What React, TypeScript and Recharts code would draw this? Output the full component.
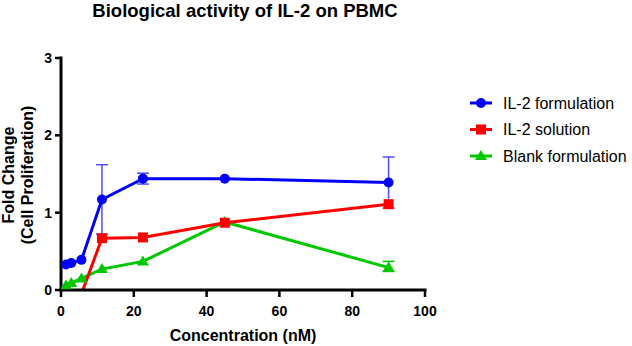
import React from 'react';
import { LineChart, Line, XAxis, YAxis, ErrorBar, Legend } from 'recharts';

const concentrations = [1.40625, 2.8125, 5.625, 11.25, 22.5, 45, 90];
const il2Formulation = [0.33, 0.35, 0.39, 1.17, 1.44, 1.44, 1.39];
const il2FormulationErr = [0, 0, 0, 0.45, 0.07, 0, 0.33];
const il2Solution = [null, null, -0.05, 0.67, 0.68, 0.87, 1.11];
const il2SolutionErr = [0, 0, 0, 0, 0, 0, 0];
const blankFormulation = [0.06, 0.09, 0.15, 0.27, 0.37, 0.88, 0.29];
const blankFormulationErrLow = [0, 0, 0, 0, 0, 0, 0.05];
const blankFormulationErrHigh = [0, 0, 0, 0, 0, 0, 0.08];

const xTicks = [0, 20, 40, 60, 80, 100];
const yTicks = [0, 1, 2, 3];

const seriesNames = ['IL-2 formulation', 'IL-2 solution', 'Blank formulation'];
const BLUE = '#0000FF';
const RED = '#FF0000';
const GREEN = '#00C800';

const data = concentrations.map((c, i) => ({
  x: c,
  f: il2Formulation[i],
  fe: il2FormulationErr[i],
  s: il2Solution[i],
  se: il2SolutionErr[i],
  b: blankFormulation[i],
  be: blankFormulationErrHigh[i] ? [blankFormulationErrLow[i], blankFormulationErrHigh[i]] : 0,
}));

const circleDot = (props: any) => {
  const { cx, cy, index, value } = props;
  if (value == null || value < 0 || cx == null || cy == null) return <g key={`c${index}`} />;
  return <circle key={`c${index}`} cx={cx} cy={cy} r={5} fill={BLUE} stroke="none" />;
};
const squareDot = (props: any) => {
  const { cx, cy, index, value } = props;
  if (value == null || value < 0 || cx == null || cy == null) return <g key={`s${index}`} />;
  return <rect key={`s${index}`} x={cx - 5} y={cy - 5} width={10} height={10} fill={RED} stroke="none" />;
};
const triDot = (props: any) => {
  const { cx, cy, index, value } = props;
  if (value == null || value < 0 || cx == null || cy == null) return <g key={`t${index}`} />;
  return (
    <polygon
      key={`t${index}`}
      points={`${cx},${cy - 6} ${cx + 6},${cy + 4} ${cx - 6},${cy + 4}`}
      fill={GREEN}
      stroke="none"
    />
  );
};

const renderLegend = () => {
  const rows = [
    { name: seriesNames[0], color: BLUE, shape: 'circle' },
    { name: seriesNames[1], color: RED, shape: 'square' },
    { name: seriesNames[2], color: GREEN, shape: 'tri' },
  ];
  return (
    <svg width={164} height={80} style={{ display: 'block', overflow: 'visible' }}>
      {rows.map((r, i) => {
        const y = 13 + i * 26.5;
        return (
          <g key={r.name}>
            <line x1={2} x2={24} y1={y} y2={y} stroke={r.color} strokeWidth={3} />
            {r.shape === 'circle' && <circle cx={13} cy={y} r={5} fill={r.color} />}
            {r.shape === 'square' && <rect x={8} y={y - 5} width={10} height={10} fill={r.color} />}
            {r.shape === 'tri' && (
              <polygon points={`13,${y - 6} 19,${y + 4} 7,${y + 4}`} fill={r.color} />
            )}
            <text
              x={35}
              y={y}
              dy="0.36em"
              fontFamily="Liberation Sans, Arial, sans-serif"
              fontSize={16}
              fill="#000"
            >
              {r.name}
            </text>
          </g>
        );
      })}
    </svg>
  );
};

const axisStyle = { stroke: '#000', strokeWidth: 3, strokeLinecap: 'square' as const };
const tickStyle = { fill: '#000', fontSize: 14, fontWeight: 700, fontFamily: 'Liberation Sans, Arial, sans-serif' };

export default function App() {
  return (
    <div style={{ position: 'absolute', left: 0, top: 0, width: 632, height: 346, background: '#fff' }}>
      <LineChart
        width={632}
        height={346}
        data={data}
        margin={{ top: 58, right: 207, bottom: 0, left: 0 }}
      >
        <XAxis
          dataKey="x"
          type="number"
          domain={[0, 100]}
          ticks={xTicks}
          interval={0}
          height={56}
          axisLine={axisStyle}
          tickLine={{ stroke: '#000', strokeWidth: 2.5 }}
          tickSize={7}
          tickMargin={9}
          tick={tickStyle}
          allowDataOverflow
        />
        <YAxis
          type="number"
          domain={[0, 3]}
          ticks={yTicks}
          interval={0}
          width={61}
          axisLine={axisStyle}
          tickLine={{ stroke: '#000', strokeWidth: 2.5 }}
          tickSize={6}
          tickMargin={3}
          tick={tickStyle}
          allowDataOverflow
        />
        <Legend
          layout="horizontal"
          verticalAlign="middle"
          align="center"
          content={renderLegend}
          wrapperStyle={{ position: 'absolute', left: 468, top: 90, width: 164, height: 80 }}
        />
        <Line
          dataKey="b"
          name={seriesNames[2]}
          stroke={GREEN}
          strokeWidth={3}
          dot={triDot}
          activeDot={false}
          isAnimationActive={false}
          connectNulls={false}
        >
          <ErrorBar dataKey="be" direction="y" width={6} stroke={GREEN} strokeWidth={1.5} />
        </Line>
        <Line
          dataKey="s"
          name={seriesNames[1]}
          stroke={RED}
          strokeWidth={3}
          dot={squareDot}
          activeDot={false}
          isAnimationActive={false}
          connectNulls={false}
        >
          <ErrorBar dataKey="se" direction="y" width={6} stroke={RED} strokeWidth={1.5} />
        </Line>
        <Line
          dataKey="f"
          name={seriesNames[0]}
          stroke={BLUE}
          strokeWidth={3}
          dot={circleDot}
          activeDot={false}
          isAnimationActive={false}
        >
          <ErrorBar dataKey="fe" direction="y" width={6} stroke="#4d4dff" strokeWidth={1.5} />
        </Line>
      </LineChart>
      <svg
        width={632}
        height={346}
        style={{ position: 'absolute', left: 0, top: 0, pointerEvents: 'none' }}
      >
        <text
          x={245}
          y={17}
          textAnchor="middle"
          fontFamily="Liberation Sans, Arial, sans-serif"
          fontWeight={700}
          fontSize={18.5}
          fill="#000"
        >
          Biological activity of IL-2 on PBMC
        </text>
        <text
          x={243}
          y={341}
          textAnchor="middle"
          fontFamily="Liberation Sans, Arial, sans-serif"
          fontWeight={700}
          fontSize={16}
          fill="#000"
        >
          Concentration (nM)
        </text>
        <g
          fontFamily="Liberation Sans, Arial, sans-serif"
          fontWeight={700}
          fontSize={16}
          fill="#000"
          textAnchor="middle"
        >
          <text transform="translate(14,175) rotate(-90)">Fold Change</text>
          <text transform="translate(33,175) rotate(-90)">(Cell Proliferation)</text>
        </g>
      </svg>
    </div>
  );
}
